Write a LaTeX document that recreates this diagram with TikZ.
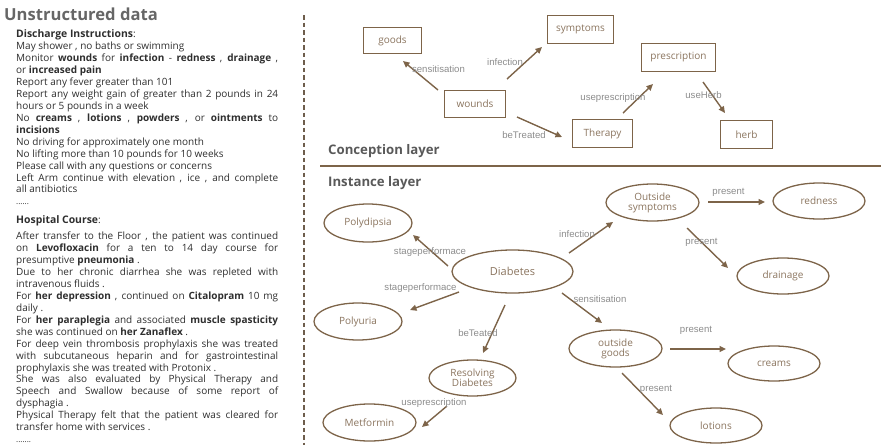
\documentclass[tikz,border=0pt]{standalone}
\usepackage{fontspec}
\setmainfont{Open Sans}
\newfontfamily\lblfont{Liberation Sans}
\usetikzlibrary{shapes.geometric,arrows.meta}

\definecolor{brn}{HTML}{7D6449}
\definecolor{ntext}{HTML}{8A745E}
\definecolor{etext}{HTML}{8C8C8C}
\definecolor{bodytext}{HTML}{2E2E2E}
\definecolor{ttl}{HTML}{666666}
\definecolor{lyr}{HTML}{595959}
\definecolor{sep}{HTML}{6E5D4C}

\newlength\colw
\setlength\colw{262pt}

\tikzset{
  cbox/.style={draw=brn, line width=1.3pt, text=ntext, inner sep=0pt,
    font=\fontsize{10}{11}\selectfont},
  iell/.style={ellipse, draw=brn, line width=1.3pt, text=ntext, inner sep=0pt,
    align=center, font=\fontsize{10}{11.5}\selectfont},
  arr/.style={draw=brn, line width=1.4pt, -{Triangle[length=6.5pt,width=6pt]}},
  lbl/.style={text=etext, inner sep=0pt, font=\lblfont\fontsize{9.6}{11}\selectfont},
  notes/.style={anchor=north west, inner sep=0pt, text=bodytext, text width=\colw,
    align=justify, font=\fontsize{10}{11.95}\selectfont},
  layer/.style={anchor=base west, inner sep=0pt, text=lyr,
    font=\bfseries\fontsize{13.2}{15}\selectfont},
}

\begin{document}
\begin{tikzpicture}[x=1pt,y=-1pt]
\useasboundingbox (0,0) rectangle (881,445);

% ---------- left column: free-text notes ----------
\node[anchor=base west, inner sep=0pt, text=ttl, font=\bfseries\fontsize{16.6}{19}\selectfont]
  (title) at (4,20.5) {Unstructured data};

% lines forced with \linebreak are spread to the full column width
\node[notes] (discharge) at (16,29.5) {%
{\bfseries\fontsize{10.4}{12}\selectfont Discharge Instructions}:\\
May shower , no baths or swimming\\
Monitor \textbf{wounds} for \textbf{infection} - \textbf{redness} , \textbf{drainage} ,\linebreak
or \textbf{increased pain}\\
Report any fever greater than 101\\
Report any weight gain of greater than 2 pounds in 24\linebreak
hours or 5 pounds in a week\\
No \textbf{creams} , \textbf{lotions} , \textbf{powders} , or \textbf{ointments} to\linebreak
\textbf{incisions}\\
No driving for approximately one month\\
No lifting more than 10 pounds for 10 weeks\\
Please call with any questions or concerns\\
Left Arm continue with elevation , ice , and complete\linebreak
all antibiotics\\
{\fontsize{8}{12}\selectfont ......}};

\node[notes] (course) at (16,215) {%
{\bfseries\fontsize{10.4}{12}\selectfont Hospital Course}:\\[4.5pt]
After transfer to the Floor , the patient was continued\linebreak
on \textbf{Levofloxacin} for a ten to 14 day course for\linebreak
presumptive \textbf{pneumonia} .\\
Due to her chronic diarrhea she was repleted with\linebreak
intravenous fluids .\\
For \textbf{her depression} , continued on \textbf{Citalopram} 10 mg\linebreak
daily .\\
For \textbf{her paraplegia} and associated \textbf{muscle spasticity}\linebreak
she was continued on \textbf{her Zanaflex} .\\
For deep vein thrombosis prophylaxis she was treated\linebreak
with subcutaneous heparin and for gastrointestinal\linebreak
prophylaxis she was treated with Protonix .\\
She was also evaluated by Physical Therapy and\linebreak
Speech and Swallow because of some report of\linebreak
dysphagia .\\
Physical Therapy felt that the patient was cleared for\linebreak
transfer home with services .\\
{\fontsize{8}{12}\selectfont .......}};

% ---------- dividers ----------
\coordinate (vtop) at (304,15);
\coordinate (vbot) at (304,445);
\draw[sep, line width=1.3pt, dash pattern=on 4.5pt off 3pt] (vtop) -- (vbot);
\coordinate (hl) at (320,166);
\coordinate (hr) at (881,166);
\draw[brn, line width=1.3pt] (hl) -- (hr);

\node[layer] (conc) at (328,154.5) {Conception layer};
\node[layer] (inst) at (328,186) {Instance layer};

% ---------- conception layer ----------
\node[cbox, minimum width=58pt, minimum height=26pt] (goods) at (392.5,40.5) {goods};
\node[cbox, minimum width=66pt, minimum height=28pt] (symptoms) at (580.5,29.5) {symptoms};
\node[cbox, minimum width=61pt, minimum height=27pt] (wounds) at (475,104) {wounds};
\node[cbox, minimum width=60pt, minimum height=28pt] (therapy) at (602.5,133.5) {Therapy};
\node[cbox, minimum width=74pt, minimum height=28pt] (prescription) at (678.5,57.5) {prescription};
\node[cbox, minimum width=52pt, minimum height=28pt] (herb) at (746.5,134.5) {herb};

\draw[arr] ([shift={(-37,-14)}]wounds.center) -- ([shift={(10.5,20.5)}]goods.center);
\draw[arr] ([shift={(32,-25)}]wounds.center) -- ([shift={(-38.5,17.5)}]symptoms.center);
\draw[arr] ([shift={(42,13)}]wounds.center) -- ([shift={(-40.5,3.5)}]therapy.center);
\draw[arr] ([shift={(20.5,-20.5)}]therapy.center) -- ([shift={(-25.5,26.5)}]prescription.center);
\draw[arr] ([shift={(24.5,24.5)}]prescription.center) -- ([shift={(-21.5,-21.5)}]herb.center);

\node[lbl] (l1) at (438.5,69) {sensitisation};
\node[lbl] (l2) at (505,62) {infection};
\node[lbl] (l3) at (524,135) {beTreated};
\node[lbl] (l4) at (613,98) {useprescription};
\node[lbl] (l5) at (703.5,95) {useHerb};

% ---------- instance layer ----------
\node[iell, minimum width=88pt, minimum height=38pt] (polydipsia) at (368,223) {Polydipsia};
\node[iell, minimum width=121pt, minimum height=43pt, font=\fontsize{11}{12}\selectfont] (diabetes) at (512.5,271.5) {Diabetes};
\node[iell, minimum width=93pt, minimum height=37pt] (outsym) at (652.5,202.5) {Outside\\[-1.5pt]symptoms};
\node[iell, minimum width=92pt, minimum height=36pt] (redness) at (819,201) {redness};
\node[iell, minimum width=92pt, minimum height=36pt] (drainage) at (783,276) {drainage};
\node[iell, minimum width=88pt, minimum height=37pt] (polyuria) at (358,321.5) {Polyuria};
\node[iell, minimum width=87pt, minimum height=36pt] (resolving) at (472.5,378) {Resolving\\[-1.5pt]Diabetes};
\node[iell, minimum width=93pt, minimum height=37pt] (metformin) at (369.5,422.5) {Metformin};
\node[iell, minimum width=93pt, minimum height=37pt] (outgoods) at (615.5,348.5) {outside\\[-1.5pt]goods};
\node[iell, minimum width=92pt, minimum height=35pt] (creams) at (774,363.5) {creams};
\node[iell, minimum width=92pt, minimum height=35pt] (lotions) at (716,425.5) {lotions};

\draw[arr] ([shift={(-64.5,-5.5)}]diabetes.center) -- ([shift={(45,12)}]polydipsia.center);
\draw[arr] ([shift={(-53.5,20.5)}]diabetes.center) -- ([shift={(52,-11.5)}]polyuria.center);
\draw[arr] ([shift={(56.5,-18.5)}]diabetes.center) -- ([shift={(-39.5,19.5)}]outsym.center);
\draw[arr] ([shift={(55.5,-0.5)}]outsym.center) -- ([shift={(-54,1)}]redness.center);
\draw[arr] ([shift={(34.5,25.5)}]outsym.center) -- ([shift={(-55,-8)}]drainage.center);
\draw[arr] ([shift={(49.5,21.5)}]diabetes.center) -- ([shift={(-13.5,-25.5)}]outgoods.center);
\draw[arr] ([shift={(-7.5,33.5)}]diabetes.center) -- ([shift={(10.5,-25)}]resolving.center);
\draw[arr] ([shift={(-25.5,28)}]resolving.center) -- ([shift={(52.5,4.5)}]metformin.center);
\draw[arr] ([shift={(54.5,0.5)}]outgoods.center) -- ([shift={(-48,-14.5)}]creams.center);
\draw[arr] ([shift={(6.5,24.5)}]outgoods.center) -- ([shift={(-53,-10.5)}]lotions.center);

\node[lbl] (m1) at (430,252) {stageperformace};
\node[lbl] (m2) at (420.5,288) {stageperformace};
\node[lbl] (m3) at (577,234) {infection};
\node[lbl] (m4) at (728.5,192) {present};
\node[lbl] (m5) at (701.5,242) {present};
\node[lbl] (m6) at (600,299) {sensitisation};
\node[lbl] (m7) at (478,333) {beTeated};
\node[lbl] (m8) at (434,403) {useprescription};
\node[lbl] (m9) at (696,330) {present};
\node[lbl] (m10) at (656,389) {present};
\end{tikzpicture}
\end{document}
